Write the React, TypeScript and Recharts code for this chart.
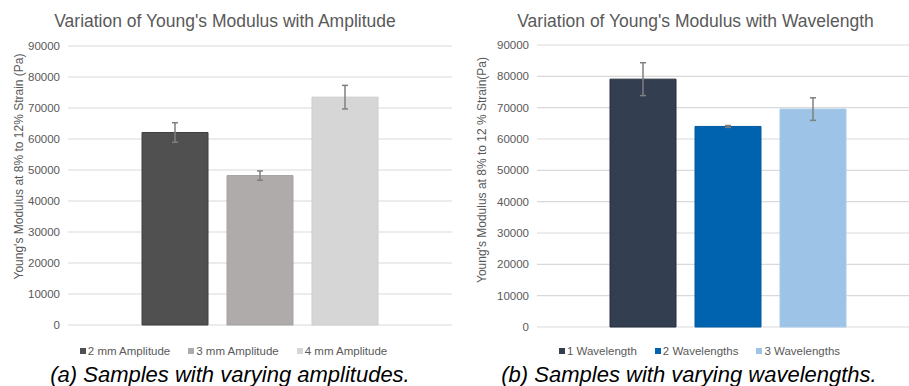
import React from 'react';
import { BarChart, Bar, XAxis, YAxis, CartesianGrid, ErrorBar } from 'recharts';

const ampSeries = ['2 mm Amplitude', '3 mm Amplitude', '4 mm Amplitude'];
const ampValues = [62100, 48200, 73500];
const ampErrors = [3150, 1500, 3800];
const ampColors = ['#505050', '#AFABAB', '#D6D6D6'];
const ampStrokes = ['#3E3E3E', '#A5A1A1', '#CDCDCD'];

const waveSeries = ['1 Wavelength', '2 Wavelengths', '3 Wavelengths'];
const waveValues = [79100, 64000, 69550];
const waveErrors = [5250, 300, 3600];
const waveColors = ['#333F50', '#0063B0', '#9DC3E6'];
const waveStrokes = ['#252F3D', '#0059A0', '#A8CBEA'];

const yTicks = [0, 10000, 20000, 30000, 40000, 50000, 60000, 70000, 80000, 90000];

const FONT = '"Liberation Sans", Arial, sans-serif';
const TEXT = '#595959';

function buildRow(values: number[], errors: number[]) {
  const row: Record<string, number | string> = { name: 'group' };
  values.forEach((v, i) => {
    row['v' + i] = v;
    row['e' + i] = errors[i];
  });
  return [row];
}

type PanelProps = {
  left: number;
  width: number;
  height: number;
  margin: { top: number; right: number; bottom: number; left: number };
  yWidth: number;
  series: string[];
  values: number[];
  errors: number[];
  colors: string[];
  strokes: string[];
  categoryGap: number;
};

function Panel(p: PanelProps) {
  const data = buildRow(p.values, p.errors);
  return (
    <div style={{ position: 'absolute', left: p.left, top: 0 }}>
      <BarChart
        width={p.width}
        height={p.height}
        data={data}
        margin={p.margin}
        barCategoryGap={p.categoryGap}
        barGap={19}
        style={{ fontFamily: FONT }}
      >
        <CartesianGrid vertical={false} stroke="#D9D9D9" strokeWidth={1.2} />
        <XAxis dataKey="name" hide />
        <YAxis
          width={p.yWidth}
          domain={[0, 90000]}
          ticks={yTicks}
          interval={0}
          axisLine={false}
          tickLine={false}
          tickSize={0}
          tickMargin={8}
          tick={{ fill: TEXT, fontSize: 11.5, fontFamily: FONT }}
        />
        {p.series.map((s, i) => (
          <Bar
            key={s}
            name={s}
            dataKey={'v' + i}
            fill={p.colors[i]}
            stroke={p.strokes[i]}
            strokeWidth={1}
            isAnimationActive={false}
          >
            <ErrorBar dataKey={'e' + i} width={3} stroke="#7F7F7F" strokeWidth={1.5} />
          </Bar>
        ))}
      </BarChart>
    </div>
  );
}

function LegendRow({ left, width, series, colors }: { left: number; width: number; series: string[]; colors: string[] }) {
  return (
    <div
      style={{
        position: 'absolute',
        left,
        top: 344,
        width,
        height: 14,
        display: 'flex',
        justifyContent: 'center',
        alignItems: 'center',
        gap: 18,
        fontFamily: FONT,
        fontSize: 11.5,
        lineHeight: '14px',
        color: TEXT,
        whiteSpace: 'nowrap',
      }}
    >
      {series.map((s, i) => (
        <span key={s} style={{ display: 'flex', alignItems: 'center' }}>
          <span style={{ display: 'inline-block', width: 6, height: 6, background: colors[i], marginRight: 2 }} />
          <span>{s}</span>
        </span>
      ))}
    </div>
  );
}

export default function App() {
  return (
    <div
      style={{
        position: 'fixed',
        left: 0,
        top: 0,
        width: 909,
        height: 386,
        overflow: 'hidden',
        background: '#FFFFFF',
      }}
    >
      <Panel
        left={0}
        width={460}
        height={340}
        margin={{ top: 46, right: 8, bottom: 15, left: 0 }}
        yWidth={68}
        series={ampSeries}
        values={ampValues}
        errors={ampErrors}
        colors={ampColors}
        strokes={ampStrokes}
        categoryGap={74}
      />
      <Panel
        left={460}
        width={469}
        height={340}
        margin={{ top: 45, right: 10, bottom: 13, left: 0 }}
        yWidth={77}
        series={waveSeries}
        values={waveValues}
        errors={waveErrors}
        colors={waveColors}
        strokes={waveStrokes}
        categoryGap={73}
      />
      <LegendRow left={0} width={467} series={ampSeries} colors={ampColors} />
      <LegendRow left={460} width={479} series={waveSeries} colors={waveColors} />
      <svg
        width={909}
        height={386}
        style={{ position: 'absolute', left: 0, top: 0, pointerEvents: 'none', fontFamily: FONT }}
      >
        <text x={225} y={27} textAnchor="middle" fontSize={17.5} fill={TEXT}>
          Variation of Young's Modulus with Amplitude
        </text>
        <text x={695.5} y={27} textAnchor="middle" fontSize={17.5} fill={TEXT}>
          Variation of Young's Modulus with Wavelength
        </text>
        <text
          transform="translate(22.5,166.5) rotate(-90)"
          textAnchor="middle"
          fontSize={12}
          fill={TEXT}
        >
          Young's Modulus at 8% to 12% Strain (Pa)
        </text>
        <text
          transform="translate(486,170) rotate(-90)"
          textAnchor="middle"
          fontSize={12}
          fill={TEXT}
        >
          Young's Modulus at 8% to 12 % Strain(Pa)
        </text>
        <text x={230} y={381.5} textAnchor="middle" fontSize={22} fontStyle="italic" fill="#000000">
          (a) Samples with varying amplitudes.
        </text>
        <text x={689} y={381.5} textAnchor="middle" fontSize={22} fontStyle="italic" fill="#000000">
          (b) Samples with varying wavelengths.
        </text>
      </svg>
    </div>
  );
}
